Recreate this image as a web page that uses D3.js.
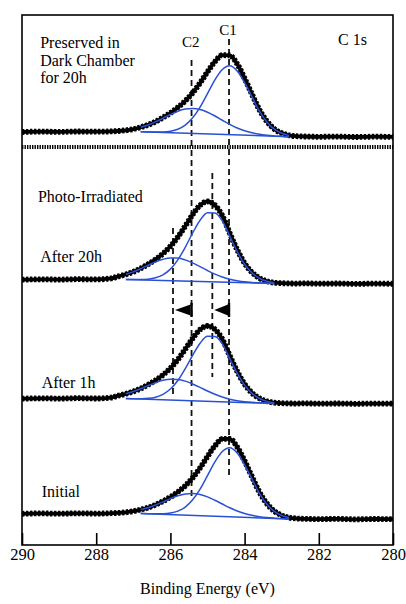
<!DOCTYPE html>
<html>
<head>
<meta charset="utf-8">
<script src="https://cdn.jsdelivr.net/npm/d3@7"></script>
<style>
  body { margin: 0; background: #fff; }
  svg { display: block; }
</style>
</head>
<body>
<svg></svg>
<script>
const size = {w: 406, h: 604};
const margin = {t: 15, r: 13, b: 59, l: 22};

// binding energy grid of the measured spectra (eV)
const energy = [290, 289.5, 289, 288.5, 288, 287.6, 287.4, 287.2, 287.0, 286.8, 286.6, 286.4, 286.2, 286.0,
  285.8, 285.6, 285.4, 285.2, 285.0, 284.8, 284.6, 284.4, 284.2, 284.0, 283.8, 283.6, 283.4, 283.2,
  283.0, 282.8, 282.6, 282.4, 282.0, 281.5, 281.0, 280.5, 280];

// measured C 1s intensity (a.u., stacked with offsets as in the figure)
const preservedCounts = [413.0, 413.4, 413.1, 413.5, 413.3, 413.6, 414.0, 414.7, 415.9, 417.7, 420.2, 423.3, 427.4, 432.0,
  437.6, 444.0, 452.2, 462.0, 473.2, 483.4, 489.8, 489.6, 481.0, 466.7, 450.6, 435.2, 423.7, 416.1,
  411.9, 409.7, 408.8, 408.5, 408.2, 408.4, 408.0, 408.3, 408.1];
const irr20hCounts = [265.3, 265.7, 265.4, 265.8, 265.6, 266.6, 268.6, 270.6, 273.2, 276.6, 280.8, 285.6, 291.4, 298.7,
  307.9, 318.9, 330.4, 339.7, 343.5, 339.9, 329.3, 311.8, 295.3, 281.7, 272.6, 266.9, 263.8, 262.3,
  261.8, 261.6, 261.4, 261.7, 261.3, 261.5, 261.1, 261.4, 261.2];
const irr1hCounts = [146.3, 146.7, 146.4, 146.8, 146.5, 147.4, 149.4, 151.2, 153.6, 156.5, 160.3, 164.6, 170.1, 176.8,
  185.4, 195.8, 206.6, 215.4, 219.0, 215.7, 205.8, 189.2, 173.6, 160.8, 152.1, 146.7, 143.8, 142.3,
  141.8, 141.6, 141.4, 141.7, 141.3, 141.5, 141.2, 141.4, 141.3];
const initialCounts = [31.2, 31.6, 31.3, 31.7, 31.4, 31.8, 32.1, 32.7, 33.8, 35.4, 37.4, 40.2, 43.8, 47.9,
  53.0, 59.2, 67.2, 77.1, 88.5, 99.2, 106.0, 106.2, 98.0, 84.1, 68.2, 52.8, 41.4, 33.9,
  29.6, 27.4, 26.5, 26.2, 25.9, 26.1, 25.7, 26.0, 25.8];

// energy grid of the fitted components (eV)
const fitEnergy = [287.4, 287.2, 287.0, 286.8, 286.6, 286.4, 286.2, 286.0, 285.8, 285.6, 285.4, 285.2, 285.0,
  284.8, 284.6, 284.4, 284.2, 284.0, 283.8, 283.6, 283.4, 283.2, 283.0, 282.8, 282.6];

// fitted components, height above the linear background
const preservedC1 = [0, 0, 0, 0.01, 0.05, 0.18, 0.56, 1.5, 3.7, 8.1, 15.6, 26.6, 40.4, 54.4, 65.0, 69.0, 64.0, 52.5, 38.5, 24.5, 14.0, 7.0, 3.2, 1.3, 0.5];
const preservedC2 = [0.7, 1.4, 2.6, 4.4, 7.0, 10.3, 14.2, 18.2, 21.7, 24.1, 25.0, 24.1, 21.7, 18.2, 14.2, 10.3, 7.0, 4.4, 2.6, 1.4, 0.7, 0.3, 0.15, 0.06, 0];
const irr20hC1 = [0.01, 0.03, 0.1, 0.33, 0.95, 2.5, 5.7, 11.6, 21.0, 33.8, 48.3, 61.3, 69.0, 69.0, 61.3, 46.0, 31.0, 18.5, 10.0, 4.8, 2.0, 0.8, 0.3, 0.1, 0.03];
const irr20hC2 = [3.1, 5.1, 7.8, 11.2, 14.9, 18.4, 21.2, 22.8, 22.8, 21.2, 18.4, 14.9, 11.2, 7.8, 5.1, 3.1, 1.8, 0.9, 0.5, 0.2, 0.1, 0, 0, 0, 0];
const irr1hC1 = [0.01, 0.03, 0.09, 0.31, 0.9, 2.3, 5.4, 11.0, 19.8, 31.9, 45.5, 57.8, 65.0, 65.0, 57.8, 43.4, 29.2, 17.4, 9.4, 4.5, 1.9, 0.75, 0.28, 0.1, 0.03];
const irr1hC2 = [2.8, 4.7, 7.2, 10.2, 13.6, 16.8, 19.4, 20.8, 20.8, 19.4, 16.8, 13.6, 10.2, 7.2, 4.7, 2.8, 1.6, 0.85, 0.4, 0.2, 0.1, 0, 0, 0, 0];
const initialC1 = [0, 0, 0, 0.01, 0.05, 0.18, 0.56, 1.5, 3.7, 8.1, 15.6, 26.6, 40.4, 54.4, 65.0, 69.0, 64.0, 52.5, 38.5, 24.5, 14.0, 7.0, 3.2, 1.3, 0.5];
const initialC2 = [0.6, 1.2, 2.3, 3.9, 6.1, 9.0, 12.5, 16.0, 19.1, 21.2, 22.0, 21.2, 19.1, 16.0, 12.5, 9.0, 6.1, 3.9, 2.3, 1.2, 0.6, 0.3, 0.1, 0.05, 0];

// linear background of each fit: energy range and levels (preserved, 20h, 1h, initial)
const bgFrom = [286.8, 287.2, 287.2, 286.8];
const bgTo = [282.8, 283.2, 283.2, 282.8];
const bgHigh = [413.3, 265.5, 146.5, 31.5];
const bgLow = [408.3, 261.5, 141.5, 26.0];

// dashed reference lines: energy and extent (a.u.)
const refEnergy = [284.42, 285.43, 284.87, 285.93];
const refTop = [506, 485, 372, 317];
const refBottom = [70, 47, 168, 150];

// peak shift arrows
const shiftFrom = [285.43, 284.42];
const shiftTo = [285.93, 284.87];
const shiftLevel = 235;

const separatorLevel = 398;
const tickValues = [290, 288, 286, 284, 282, 280];

const svg = d3.select('svg')
    .attr('width', size.w)
    .attr('height', size.h);

const font = "'Liberation Serif', 'Times New Roman', serif";
const blue = '#2a50d4';

const x = d3.scaleLinear().domain([290, 280]).range([margin.l, size.w - margin.r]);
const y = d3.scaleLinear().domain([0, 530]).range([size.h - margin.b, margin.t]);

const line = d3.line()
    .x(d => x(d[0]))
    .y(d => y(d[1]))
    .curve(d3.curveMonotoneX);

// dashed reference lines go under the spectra
svg.append('g')
    .selectAll('line')
    .data(refEnergy)
    .join('line')
    .attr('x1', d => x(d))
    .attr('x2', d => x(d))
    .attr('y1', (d, i) => y(refTop[i]))
    .attr('y2', (d, i) => y(refBottom[i]))
    .attr('stroke', '#111')
    .attr('stroke-width', 1.8)
    .attr('stroke-dasharray', '6,4');

const spectra = [
    {counts: preservedCounts, c1: preservedC1, c2: preservedC2},
    {counts: irr20hCounts, c1: irr20hC1, c2: irr20hC2},
    {counts: irr1hCounts, c1: irr1hC1, c2: irr1hC2},
    {counts: initialCounts, c1: initialC1, c2: initialC2}
];

const specG = svg.append('g');

spectra.forEach((s, i) => {
    const bg = d3.scaleLinear().domain([bgFrom[i], bgTo[i]]).range([bgHigh[i], bgLow[i]]);
    const fit = fitEnergy
        .map((e, j) => ({e: e, c1: s.c1[j], c2: s.c2[j]}))
        .filter(d => d.e <= bgFrom[i] + 1e-6 && d.e >= bgTo[i] - 1e-6);
    const pts = energy.map((e, j) => [e, s.counts[j]]);

    // measured spectrum: heavy black trace, with a beaded edge like the marker-drawn original
    specG.append('path')
        .datum(pts)
        .attr('d', line)
        .attr('fill', 'none')
        .attr('stroke', '#000')
        .attr('stroke-width', 3.8);
    specG.append('path')
        .datum(pts)
        .attr('d', line)
        .attr('fill', 'none')
        .attr('stroke', '#000')
        .attr('stroke-width', 5.8)
        .attr('stroke-dasharray', '2.4,1.6');

    // background
    specG.append('line')
        .attr('x1', x(bgFrom[i])).attr('y1', y(bgHigh[i]))
        .attr('x2', x(bgTo[i])).attr('y2', y(bgLow[i]))
        .attr('stroke', blue)
        .attr('stroke-width', 1.5);

    // components
    ['c1', 'c2'].forEach(k => {
        specG.append('path')
            .datum(fit.map(d => [d.e, bg(d.e) + d[k]]))
            .attr('d', line)
            .attr('fill', 'none')
            .attr('stroke', blue)
            .attr('stroke-width', 1.5);
    });
});

// shift arrows
const yc = y(shiftLevel);
const arrows = svg.append('g');
shiftFrom.forEach((e, i) => {
    const xb = x(e), xt = x(shiftTo[i]) + 2;
    arrows.append('path')
        .attr('d', `M${xt},${yc} L${xb - 1},${yc - 5.5} L${xb - 1},${yc + 5.5} Z`)
        .attr('fill', '#000');
    arrows.append('line')
        .attr('x1', xb).attr('x2', xb)
        .attr('y1', yc - 7).attr('y2', yc + 7)
        .attr('stroke', '#000')
        .attr('stroke-width', 2.4);
});

// dotted separator between dark chamber and irradiated series
svg.append('line')
    .attr('x1', x(290)).attr('x2', x(280))
    .attr('y1', y(separatorLevel)).attr('y2', y(separatorLevel))
    .attr('stroke', '#000')
    .attr('stroke-width', 4)
    .attr('stroke-dasharray', '1.4,1.1');

// frame
svg.append('rect')
    .attr('x', x(290)).attr('y', y(530))
    .attr('width', x(280) - x(290))
    .attr('height', y(0) - y(530))
    .attr('fill', 'none')
    .attr('stroke', '#000')
    .attr('stroke-width', 1.6);

// bottom axis with inward ticks
const axisG = svg.append('g')
    .attr('transform', `translate(0,${y(0)})`)
    .call(d3.axisBottom(x).tickValues(tickValues).tickSize(-12).tickPadding(3).tickFormat(d3.format('d')));
axisG.select('.domain').remove();
axisG.selectAll('.tick line').attr('stroke', '#000').attr('stroke-width', 1.6);
axisG.selectAll('.tick text')
    .attr('font-family', font)
    .attr('font-size', 16.5)
    .attr('fill', '#000');

svg.append('text')
    .attr('x', (x(290) + x(280)) / 2)
    .attr('y', 594)
    .attr('text-anchor', 'middle')
    .attr('font-family', font)
    .attr('font-size', 16)
    .attr('fill', '#000')
    .text('Binding Energy (eV)');

// annotations
const labels = [
    {t: 'Preserved in', e: 289.51, v: 497},
    {t: 'Dark Chamber', e: 289.51, v: 479.5},
    {t: 'for 20h', e: 289.51, v: 462},
    {t: 'Photo-Irradiated', e: 289.57, v: 343.3},
    {t: 'After 20h', e: 289.51, v: 283.3},
    {t: 'After 1h', e: 289.47, v: 156.7},
    {t: 'Initial', e: 289.47, v: 47.7},
    {t: 'C 1s', e: 281.48, v: 500}
];
svg.append('g')
    .selectAll('text')
    .data(labels)
    .join('text')
    .attr('x', d => x(d.e))
    .attr('y', d => y(d.v))
    .attr('font-family', font)
    .attr('font-size', 16)
    .attr('fill', '#000')
    .text(d => d.t);

const peakNames = [{t: 'C1', e: 284.45, v: 510}, {t: 'C2', e: 285.45, v: 498.3}];
svg.append('g')
    .selectAll('text')
    .data(peakNames)
    .join('text')
    .attr('x', d => x(d.e))
    .attr('y', d => y(d.v))
    .attr('text-anchor', 'middle')
    .attr('font-family', font)
    .attr('font-size', 15)
    .attr('fill', '#000')
    .text(d => d.t);
</script>
</body>
</html>
